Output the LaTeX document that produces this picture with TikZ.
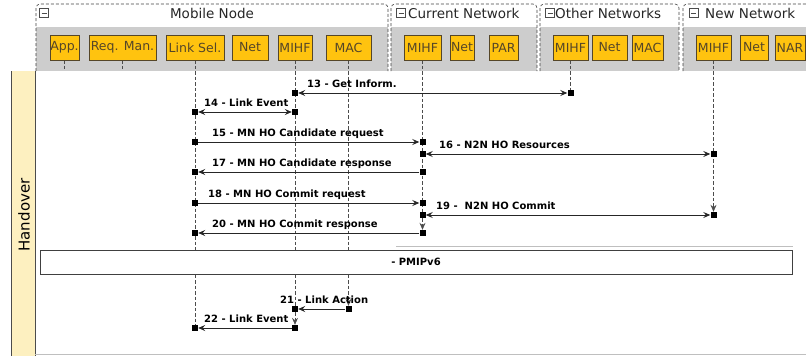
\documentclass[tikz,border=0pt]{standalone}
\usepackage{fontspec}
\setmainfont{DejaVu Sans}
\usetikzlibrary{arrows.meta,backgrounds}

\definecolor{compfill}{RGB}{255,195,15}
\definecolor{compline}{RGB}{85,70,40}
\definecolor{bandgray}{RGB}{205,205,205}
\definecolor{lanefill}{RGB}{253,240,192}

\tikzset{
  comp/.style={draw=compline, fill=compfill, text=compline,
    font=\fontsize{12.5}{13}\selectfont, minimum height=25pt, inner sep=0pt},
  grp/.style={draw=black!75, line width=0.6pt, dash pattern=on 3pt off 2pt, rounded corners=4pt},
  grptitle/.style={font=\fontsize{13.5}{14}\selectfont, text=black!85, anchor=base, inner sep=0pt},
  fold/.style={draw=black!70, fill=white, minimum size=9pt, inner sep=0pt,
    path picture={\draw[black!70] ([xshift=2pt]path picture bounding box.west)
      -- ([xshift=-2pt]path picture bounding box.east);}},
  life/.style={draw=black!70, line width=0.6pt, dash pattern=on 3.5pt off 2pt},
  endmark/.style={fill=black, inner sep=0pt, minimum size=6pt},
  fwd/.style={-{Stealth[length=7pt,width=6pt,inset=2.5pt]}},
  twoway/.style={{Stealth[length=7pt,width=6pt,inset=2.5pt]}-{Stealth[length=7pt,width=6pt,inset=2.5pt]}},
  msg/.style={draw=black!85, line width=0.8pt},
  msglabel/.style={font=\bfseries\fontsize{10}{12}\selectfont, anchor=base west, inner sep=0pt},
}

\begin{document}
\begin{tikzpicture}[x=1pt,y=-1pt]
\useasboundingbox (0,0) rectangle (806,356);

% lane and group frames
\begin{scope}[on background layer]
  \fill[lanefill] (11,71) rectangle (35,356);
  \draw[black!70] (11,71) -- (11,356) (35,71) -- (35,356);
  \draw[black!25] (35,354) -- (806,354);
  \foreach \l/\r in {36/388, 391/537, 540/679, 683/812}{
    \fill[bandgray] (\l,27) rectangle (\r,71);
    \draw[grp] (\l,71) -- (\l,4) -- (\r,4) -- (\r,71);
  }
\end{scope}

\node[rotate=90, font=\fontsize{15}{15}\selectfont] (lanetitle) at (24,215) {Handover};

% group headers
\node[fold] (mnfold) at (44,13) {};
\node[grptitle] (mntitle) at (212,19) {Mobile Node};
\node[fold] (cnfold) at (401,13) {};
\node[grptitle, anchor=base west] (cntitle) at (408,19) {Current Network};
\node[fold] (onfold) at (550,13) {};
\node[grptitle, anchor=base west] (ontitle) at (555,19) {Other Networks};
\node[fold] (nnfold) at (693.5,13) {};
\node[grptitle, anchor=base west] (nntitle) at (705,19) {New Network};

% components
\foreach \name/\cx/\w/\txt in {app/64.5/29/App., reqman/122.5/67/Req. Man.,
    lsel/195/58/Link Sel., mnnet/250/36/Net, mnmihf/295/34/MIHF, mnmac/348.5/45/MAC,
    cnmihf/422.5/37/MIHF, cnnet/462/24/Net, cnpar/503.5/29/PAR,
    onmihf/570.5/35/MIHF, onnet/609.5/35/Net, onmac/647.5/31/MAC,
    nnmihf/713.5/35/MIHF, nnnet/754/28/Net, nnnar/790/30/NAR}
  \node[comp, minimum width=\w pt] (\name) at (\cx,47.5) {\txt};

% proxy mobile ip block
\draw[black!25] (396,246) -- (793,246);
\node[draw=black!75, line width=0.6pt, fill=white, minimum width=752pt, minimum height=24pt,
  font=\bfseries\fontsize{10}{12}\selectfont] (pmip) at (416,262) {- PMIPv6};

% messages
\foreach \n/\from/\to/\yy/\kind/\lx/\txt in {
    13/mnmihf/onmihf/93/twoway/307/{13 - Get Inform.},
    14/lsel/mnmihf/112/twoway/204/{14 - Link Event},
    15/lsel/cnmihf/142/fwd/212/{15 - MN HO Candidate request},
    16/cnmihf/nnmihf/154/twoway/439/{16 - N2N HO Resources},
    17/cnmihf/lsel/172/fwd/212/{17 - MN HO Candidate response},
    18/lsel/cnmihf/203/fwd/208/{18 - MN HO Commit request},
    19/cnmihf/nnmihf/215/twoway/436/{19 -\ \ N2N HO Commit},
    20/cnmihf/lsel/233/fwd/212/{20 - MN HO Commit response},
    21/mnmac/mnmihf/309/fwd/280/{21 - Link Action},
    22/mnmihf/lsel/328/fwd/204/{22 - Link Event}}{
  \node[endmark] (a\n) at (\from |- 0,\yy) {};
  \node[endmark] (b\n) at (\to |- 0,\yy) {};
  \draw[msg,\kind] (a\n) -- (b\n);
  \node[msglabel] (l\n) at (\lx,\yy-6) {\txt};
}

% lifelines
\begin{scope}[on background layer]
  \coordinate (bandfoot) at (0,71);
  \draw[life] (app) -- (app |- bandfoot);
  \draw[life] (reqman) -- (reqman |- bandfoot);
  \draw[life] (lsel) -- (b22);
  \draw[life] (mnmihf) -- (b21);
  \draw[life,fwd] (b21) -- (a22);
  \draw[life,fwd] (mnmac) -- (a21);
  \draw[life] (cnmihf) -- (a19);
  \draw[life,fwd] (a19) -- (a20);
  \draw[life] (onmihf) -- (b13);
  \draw[life,fwd] (nnmihf) -- (b19);
\end{scope}
\end{tikzpicture}
\end{document}
